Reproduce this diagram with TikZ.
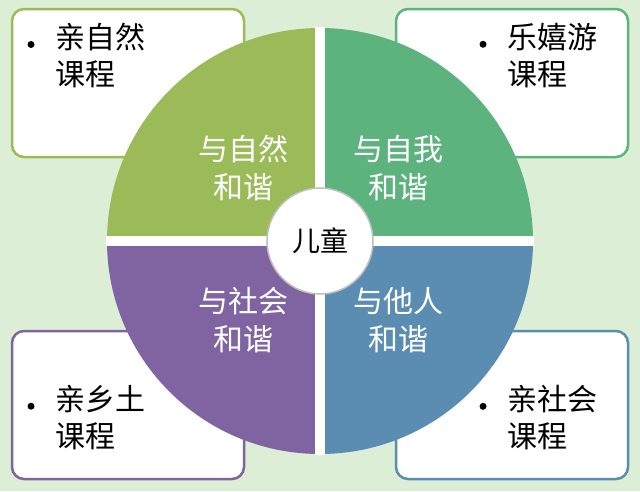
\documentclass[tikz,border=0pt]{standalone}
\usepackage{fontspec}
\newfontfamily\cjk{Noto Sans CJK SC}
\definecolor{bgc}{HTML}{DCEFD6}
\definecolor{qa}{HTML}{9BBB59}
\definecolor{qb}{HTML}{5DB37E}
\definecolor{qc}{HTML}{8064A2}
\definecolor{qd}{HTML}{5B8DB3}
\newcommand{\blt}{\makebox[28pt][l]{\raisebox{1pt}{\tikz\fill (0,0) circle (3.5pt);}}}
\tikzset{
  cbox/.style={draw=#1, line width=2.5pt, fill=white, rounded corners=12pt,
    minimum width=232pt, minimum height=148pt},
  ctext/.style={font=\cjk\fontsize{30}{37}\selectfont, align=left, text=black},
  qtext/.style={font=\cjk\fontsize{30}{38}\selectfont, align=center, text=white}
}
\begin{document}
\begin{tikzpicture}[x=1pt,y=-1pt]
    \fill [bgc] (0,0) rectangle (640,491);
    \useasboundingbox (0,0) rectangle (640,491);
    % corner boxes
    \node [cbox=qa] (boxa) at (128,83) {};
    \node [cbox=qb] (boxb) at (512,83) {};
    \node [cbox=qc] (boxc) at (128,405) {};
    \node [cbox=qd] (boxd) at (512,405) {};
    \node [ctext, anchor=north west] (ta) at (24,20) {\blt 亲自然\\\hspace{28pt}课程};
    \node [ctext, anchor=north west] (tb) at (476,20) {\blt 乐嬉游\\\hspace{28pt}课程};
    \node [ctext, anchor=north west] (tc) at (24,382) {\blt 亲乡土\\\hspace{28pt}课程};
    \node [ctext, anchor=north west] (td) at (476,382) {\blt 亲社会\\\hspace{28pt}课程};
    % quadrants
    \coordinate (o) at (320,241);
    \fill [qa] (o) -- ++(-213,0) arc (180:90:213 and -213) -- cycle;
    \fill [qb] (o) -- ++(0,-213) arc (90:0:213 and -213) -- cycle;
    \fill [qc] (o) -- ++(-213,0) arc (180:270:213 and -213) -- cycle;
    \fill [qd] (o) -- ++(213,0) arc (0:-90:213 and -213) -- cycle;
    \draw [white, line width=10pt] ([xshift=-214]o) -- ([xshift=214]o);
    \draw [white, line width=10pt] ([yshift=-214]o) -- ([yshift=214]o);
    \node [qtext] (qta) at (243,168) {与自然\\和谐};
    \node [qtext] (qtb) at (398,168) {与自我\\和谐};
    \node [qtext] (qtc) at (243,320) {与社会\\和谐};
    \node [qtext] (qtd) at (398,320) {与他人\\和谐};
    \node [circle, fill=white, draw=gray!50, line width=1.5pt, minimum size=106pt,
      font=\cjk\fontsize{28}{33}\selectfont] (kid) at (o) {儿童};
\end{tikzpicture}
\end{document}
